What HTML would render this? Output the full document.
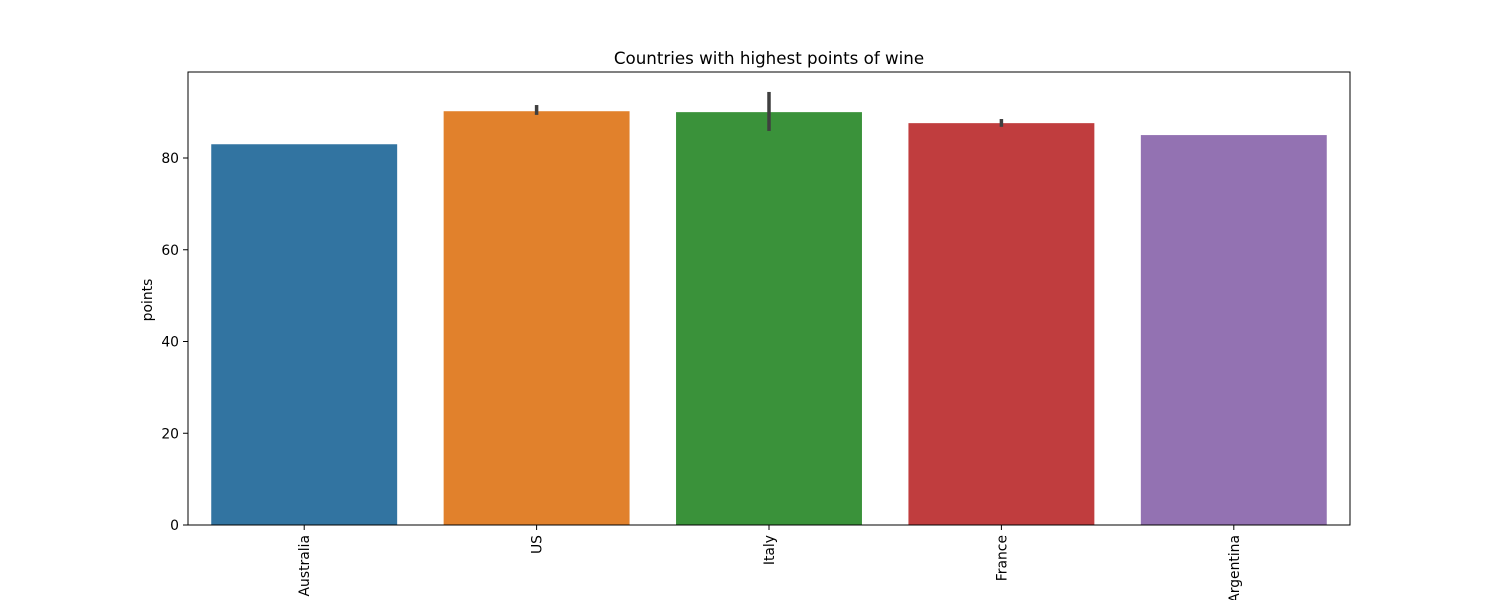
<!DOCTYPE html>
<html><head><meta charset="utf-8"><style>
body{margin:0;background:#fff;}
svg text{font-family:"DejaVu Sans","Liberation Sans",sans-serif;fill:#000;}
</style></head><body>
<svg id="chart" width="1500" height="600" xmlns="http://www.w3.org/2000/svg">
<text x="769" y="64" font-size="16.7" text-anchor="middle">Countries with highest points of wine</text>
<text transform="translate(152,300) rotate(-90)" font-size="13.9" text-anchor="middle">points</text>
<g id="bars"></g><g id="axes"></g>
</svg>
<script>
const categories = ["Australia","US","Italy","France","Argentina"];
const values = [83.0, 90.2, 90.0, 87.6, 85.0];
const errLow = [null, 89.4, 85.9, 86.8, null];
const errHigh = [null, 91.55, 94.4, 88.5, null];
const yTicks = [0,20,40,60,80];
const colors = ["#3274a1","#e1812c","#3a923a","#c03d3e","#9372b2"];

const L=188,R=1350,T=72,B=525,yMax=98.75;
const ns="http://www.w3.org/2000/svg";
const y=v=>B-(v/yMax)*(B-T);
const step=(R-L)/categories.length;
const xc=i=>L+step*(i+0.5);
const bars=document.getElementById('bars'), axes=document.getElementById('axes');
function mk(tag,attrs,parent){const e=document.createElementNS(ns,tag);for(const k in attrs)e.setAttribute(k,attrs[k]);parent.appendChild(e);return e;}
categories.forEach((c,i)=>{
  const w=step*0.8;
  const r=mk('rect',{x:xc(i)-w/2,y:y(values[i]),width:w,height:B-y(values[i]),fill:colors[i]},bars);
  
  
  if(errLow[i]!=null){
    const l=mk('line',{x1:xc(i),x2:xc(i),y1:y(errLow[i]),y2:y(errHigh[i]),stroke:'#3f3f3f','stroke-width':3.5},bars);
    
    
  }
  mk('line',{x1:xc(i),x2:xc(i),y1:B,y2:B+5,stroke:'#000','stroke-width':1},axes);
  const t=mk('text',{transform:`translate(${xc(i)+5},${B+10}) rotate(-90)`,'font-size':13.9,'text-anchor':'end'},axes);
  t.textContent=c;
  
  
});
yTicks.forEach(v=>{
  mk('line',{x1:L-5,x2:L,y1:y(v),y2:y(v),stroke:'#000','stroke-width':1},axes);
  const t=mk('text',{x:L-9,y:y(v)+5,'font-size':13.9,'text-anchor':'end'},axes);
  t.textContent=v;
  
  
});
const f=mk('rect',{x:L,y:T,width:R-L,height:B-T,fill:'none',stroke:'#000','stroke-width':1},axes);


</script>
</body></html>
